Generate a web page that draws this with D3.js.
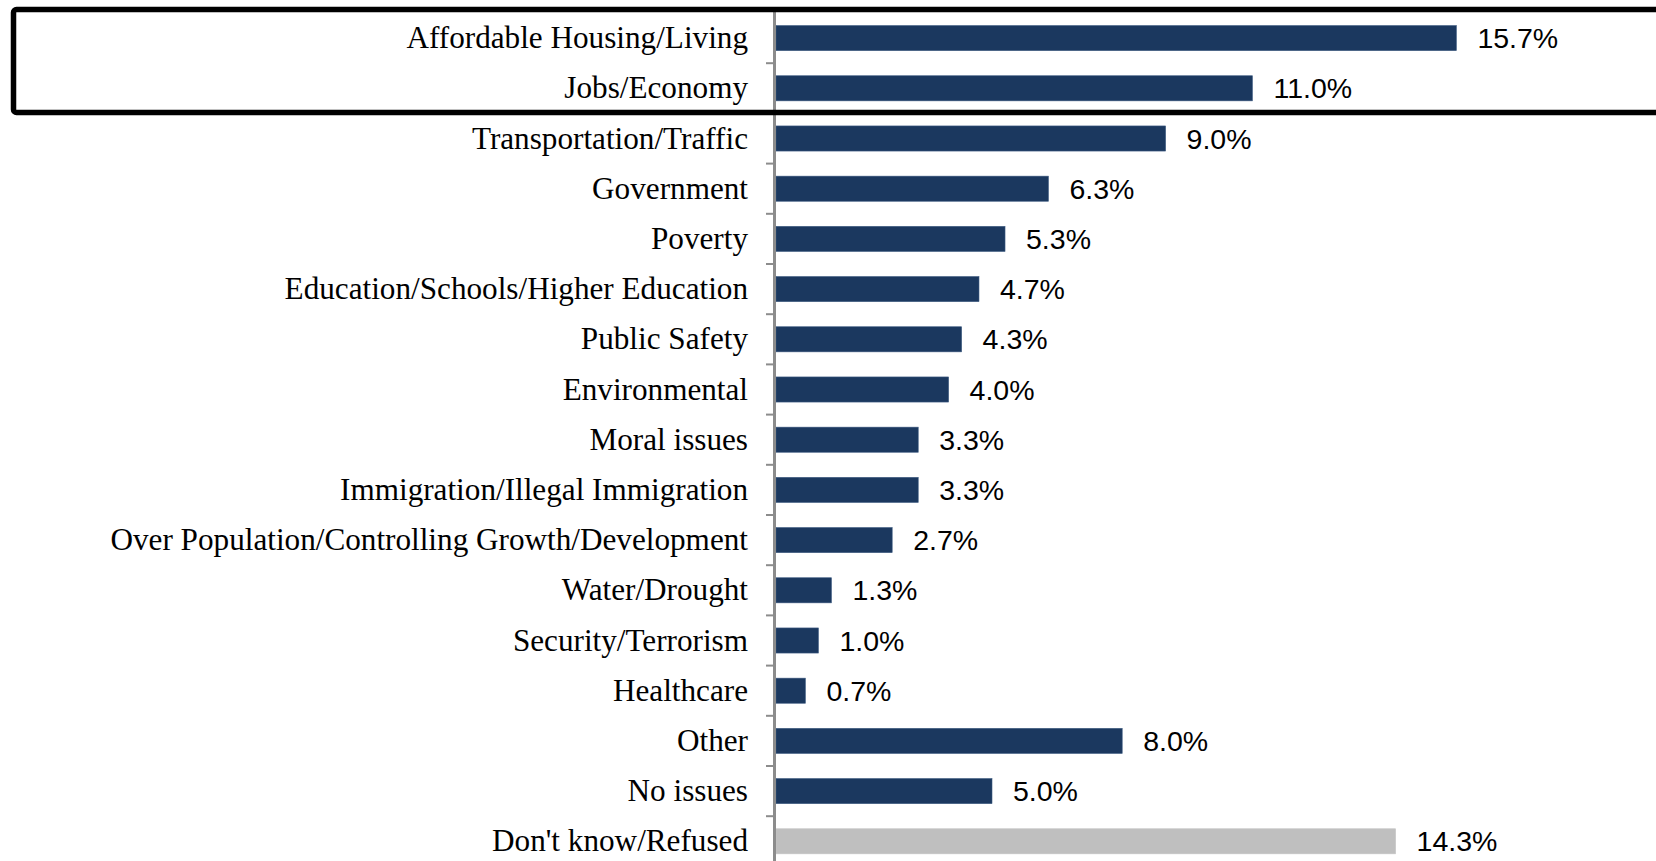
<!DOCTYPE html>
<html>
<head>
<meta charset="utf-8">
<script src="https://cdn.jsdelivr.net/npm/d3@7"></script>
<style>
  html, body { margin: 0; padding: 0; background: #fff; }
  svg { display: block; }
</style>
</head>
<body>
<div id="chart"></div>
<script>
// Categories, top to bottom
const categories = [
  "Affordable Housing/Living",
  "Jobs/Economy",
  "Transportation/Traffic",
  "Government",
  "Poverty",
  "Education/Schools/Higher Education",
  "Public Safety",
  "Environmental",
  "Moral issues",
  "Immigration/Illegal Immigration",
  "Over Population/Controlling Growth/Development",
  "Water/Drought",
  "Security/Terrorism",
  "Healthcare",
  "Other",
  "No issues",
  "Don't know/Refused"
];

// Share of respondents, percent
const values = [15.7, 11.0, 9.0, 6.3, 5.3, 4.7, 4.3, 4.0, 3.3, 3.3, 2.7, 1.3, 1.0, 0.7, 8.0, 5.0, 14.3];

// Categories drawn in grey
const greyed = ["Don't know/Refused"];

// Categories inside the highlight box
const highlighted = ["Affordable Housing/Living", "Jobs/Economy"];

const width = 1656;
const height = 861;

const data = categories.map((c, i) => ({ name: c, value: values[i] }));

const svg = d3.select("#chart")
  .append("svg")
  .attr("width", width)
  .attr("height", height);

// Scales
const top0 = 13;
const y = d3.scaleBand()
  .domain(categories)
  .range([top0, top0 + categories.length * 50.2])
  .paddingInner(0.5)
  .paddingOuter(0.25);

const x = d3.scaleLinear()
  .domain([0, 20])
  .range([775, 775 + 20 * 43.4]);

// Bars
svg.append("g")
  .selectAll("rect")
  .data(data)
  .join("rect")
  .attr("x", x(0) + 1)
  .attr("y", (d) => y(d.name))
  .attr("width", (d) => x(d.value) - x(0) - 1)
  .attr("height", y.bandwidth())
  .attr("fill", (d) => (greyed.includes(d.name) ? "#bfbfbf" : "#1b385f"))
  .attr("stroke", (d) => (greyed.includes(d.name) ? "#c6c6c6" : "#3c5a80"))
  .attr("stroke-width", 0.6);

// Value labels
svg.append("g")
  .selectAll("text")
  .data(data)
  .join("text")
  .attr("x", (d) => x(d.value) + 21)
  .attr("y", (d) => y(d.name) + y.bandwidth() / 2 + 10)
  .attr("font-family", "'Liberation Sans', Arial, sans-serif")
  .attr("font-size", "28.5px")
  .attr("fill", "#000")
  .text((d) => d3.format(".1f")(d.value) + "%");

// Category axis (ticks at the band edges)
const axisG = svg.append("g");

axisG.append("line")
  .attr("x1", x(0) - 0.5)
  .attr("x2", x(0) - 0.5)
  .attr("y1", 10)
  .attr("y2", height)
  .attr("stroke", "#8c8c8c")
  .attr("stroke-width", 3);

const step = y.step();
axisG.selectAll("line.tick")
  .data(d3.range(1, categories.length))
  .join("line")
  .attr("class", "tick")
  .attr("x1", x(0) - 9)
  .attr("x2", x(0) - 1)
  .attr("y1", (i) => top0 + i * step)
  .attr("y2", (i) => top0 + i * step)
  .attr("stroke", "#8c8c8c")
  .attr("stroke-width", 2);

axisG.selectAll("text")
  .data(categories)
  .join("text")
  .attr("x", 748)
  .attr("y", (d) => y(d) + y.bandwidth() / 2 + 10)
  .attr("text-anchor", "end")
  .attr("font-family", "'Liberation Serif', 'Times New Roman', serif")
  .attr("font-size", "31.2px")
  .attr("fill", "#000")
  .text((d) => d);

// Highlight box round the top categories
const hi = highlighted.map((c) => y(c));
const boxBottom = d3.max(hi) + y.bandwidth() + y.step() * 0.25 - 1;

svg.append("rect")
  .attr("x", 13.5)
  .attr("y", 9.5)
  .attr("width", width + 20)
  .attr("height", boxBottom - 9.5)
  .attr("rx", 3)
  .attr("fill", "none")
  .attr("stroke", "#000")
  .attr("stroke-width", 5.5);
</script>
</body>
</html>
